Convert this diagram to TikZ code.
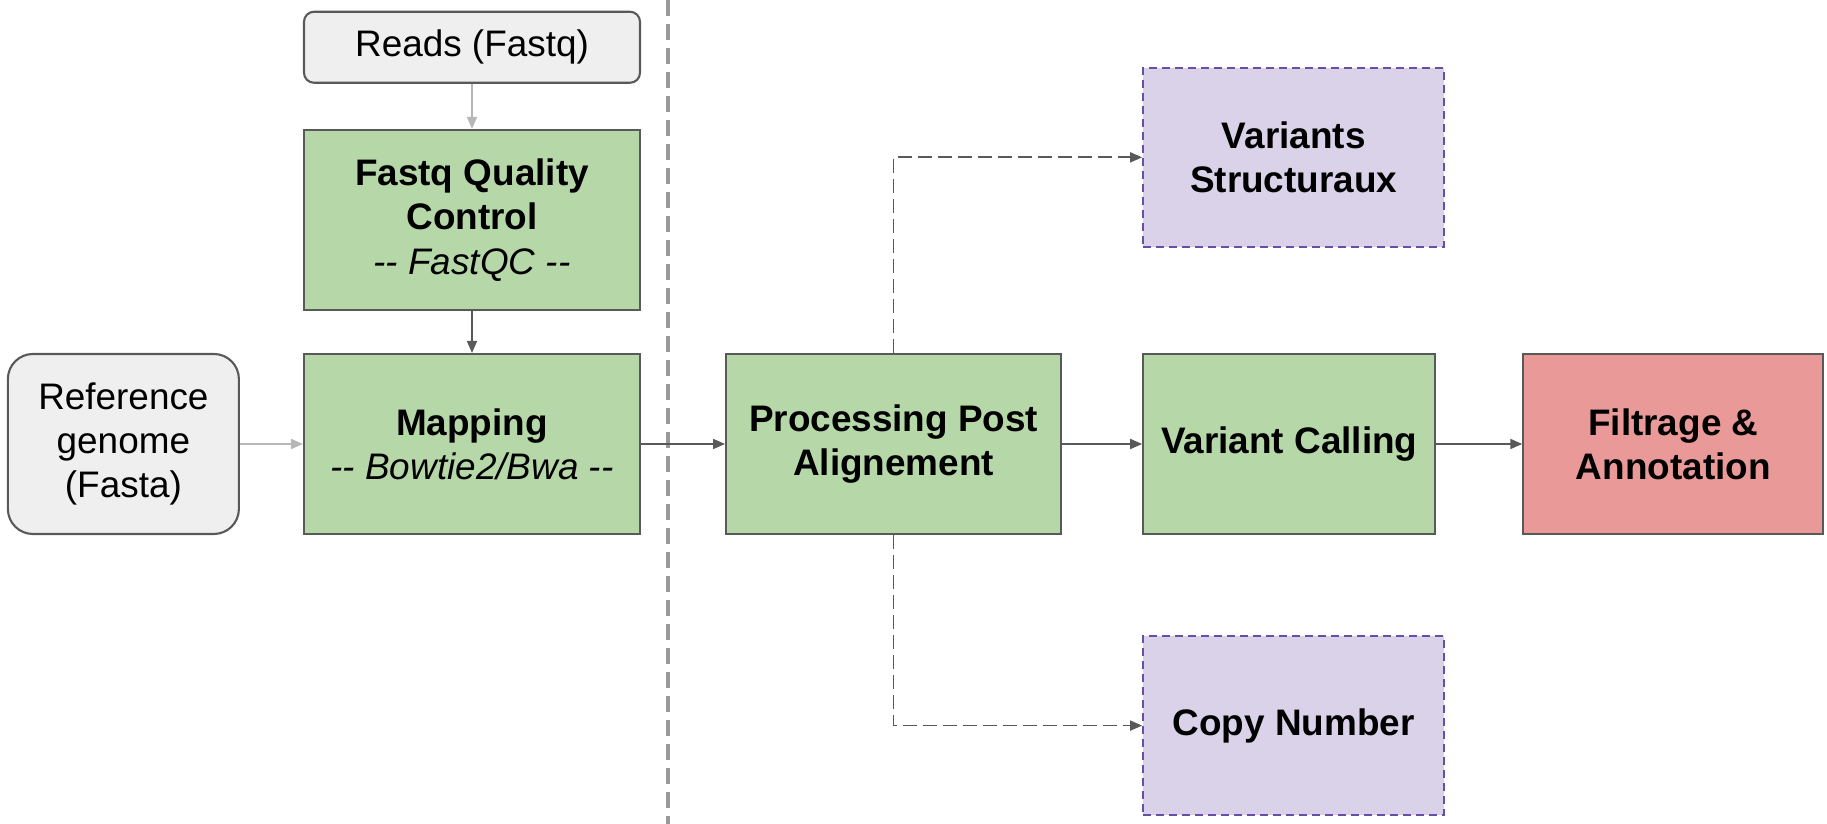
\documentclass[tikz,border=0pt]{standalone}
\usepackage{fontspec}
\setmainfont{Liberation Sans}
\usetikzlibrary{positioning,arrows.meta}

\definecolor{stepgreen}{HTML}{B6D7A8}
\definecolor{inputgray}{HTML}{EFEFEF}
\definecolor{optpurple}{HTML}{D9D2E9}
\definecolor{optborder}{HTML}{674EA7}
\definecolor{finalred}{HTML}{EA9999}
\definecolor{edgegray}{HTML}{595959}
\definecolor{lightedge}{HTML}{B7B7B7}
\definecolor{sepgray}{HTML}{999999}

\newcommand{\twodash}{-\kern0pt-}

\begin{document}
\begin{tikzpicture}[
      font=\fontsize{10.5}{12.6}\selectfont,
      box/.style = {rectangle, draw=edgegray, line width=0.6pt,
                    align=center, inner sep=0pt, minimum height=1.80cm},
      input/.style = {box, fill=inputgray},
      stepbox/.style = {box, fill=stepgreen, font=\fontsize{10.5}{12.6}\selectfont\bfseries},
      optbox/.style = {box, fill=optpurple, draw=optborder,
                       dash pattern=on 0.08cm off 0.05cm, font=\fontsize{10.5}{12.6}\selectfont\bfseries,
                       minimum width=3.01cm, minimum height=1.79cm},
      finalbox/.style = {box, fill=finalred, font=\fontsize{10.5}{12.6}\selectfont\bfseries},
      arrow/.style = {-{Triangle[length=0.12cm,width=0.1cm]}, line width=0.5pt, draw=edgegray},
      lightarrow/.style = {arrow, draw=lightedge},
      optarrow/.style = {arrow, dash pattern=on 0.14cm off 0.06cm},
      separator/.style = {draw=sepgray, line width=0.9pt, dash pattern=on 0.16cm off 0.08cm}
    ]
    \useasboundingbox (0,0) rectangle (18.27,-8.24);

    % Nodes
    \node[stepbox, minimum width=3.36cm] (mapping) at (4.72,-4.44)
          {Mapping\\\mdseries\itshape\twodash{} Bowtie2/Bwa \twodash};
    \node[stepbox, minimum width=3.36cm, minimum height=1.80cm, above=0.42cm of mapping] (fastqc)
          {Fastq Quality\\Control\\\mdseries\itshape\twodash{} FastQC \twodash};
    \node[input, minimum width=3.36cm, minimum height=0.71cm, rounded corners=0.1cm,
          above=0.45cm of fastqc] (reads) {Reads (Fastq)};
    \node[input, minimum width=2.31cm, rounded corners=0.25cm, left=0.63cm of mapping] (refgenome)
          {Reference\\genome\\(Fasta)};
    \node[stepbox, minimum width=3.35cm, right=0.84cm of mapping] (postalign)
          {Processing Post\\Alignement};
    \node[stepbox, minimum width=2.92cm, right=0.80cm of postalign] (calling) {Variant Calling};
    \node[finalbox, minimum width=3.00cm, right=0.86cm of calling] (filtrage)
          {Filtrage \&\\Annotation};
    \node[optbox, above right=1.05cm and 0cm of calling.north west] (structural)
          {Variants\\Structuraux};
    \node[optbox, below right=1.00cm and 0cm of calling.south west] (copynumber) {Copy Number};

    % Separator
    \coordinate (septop) at (6.68,0);
    \coordinate (sepbot) at (6.68,-8.24);
    \draw[separator] (septop) -- (sepbot);

    % Arrows
    \draw[lightarrow] (reads)     -- (fastqc);
    \draw[arrow]      (fastqc)    -- (mapping);
    \draw[lightarrow] (refgenome) -- (mapping);
    \draw[arrow]      (mapping)   -- (postalign);
    \draw[arrow]      (postalign) -- (calling);
    \draw[arrow]      (calling)   -- (filtrage);
    \draw[optarrow]   (postalign.north) |- (structural.west);
    \draw[optarrow]   (postalign.south) |- (copynumber.west);
  \end{tikzpicture}
\end{document}
